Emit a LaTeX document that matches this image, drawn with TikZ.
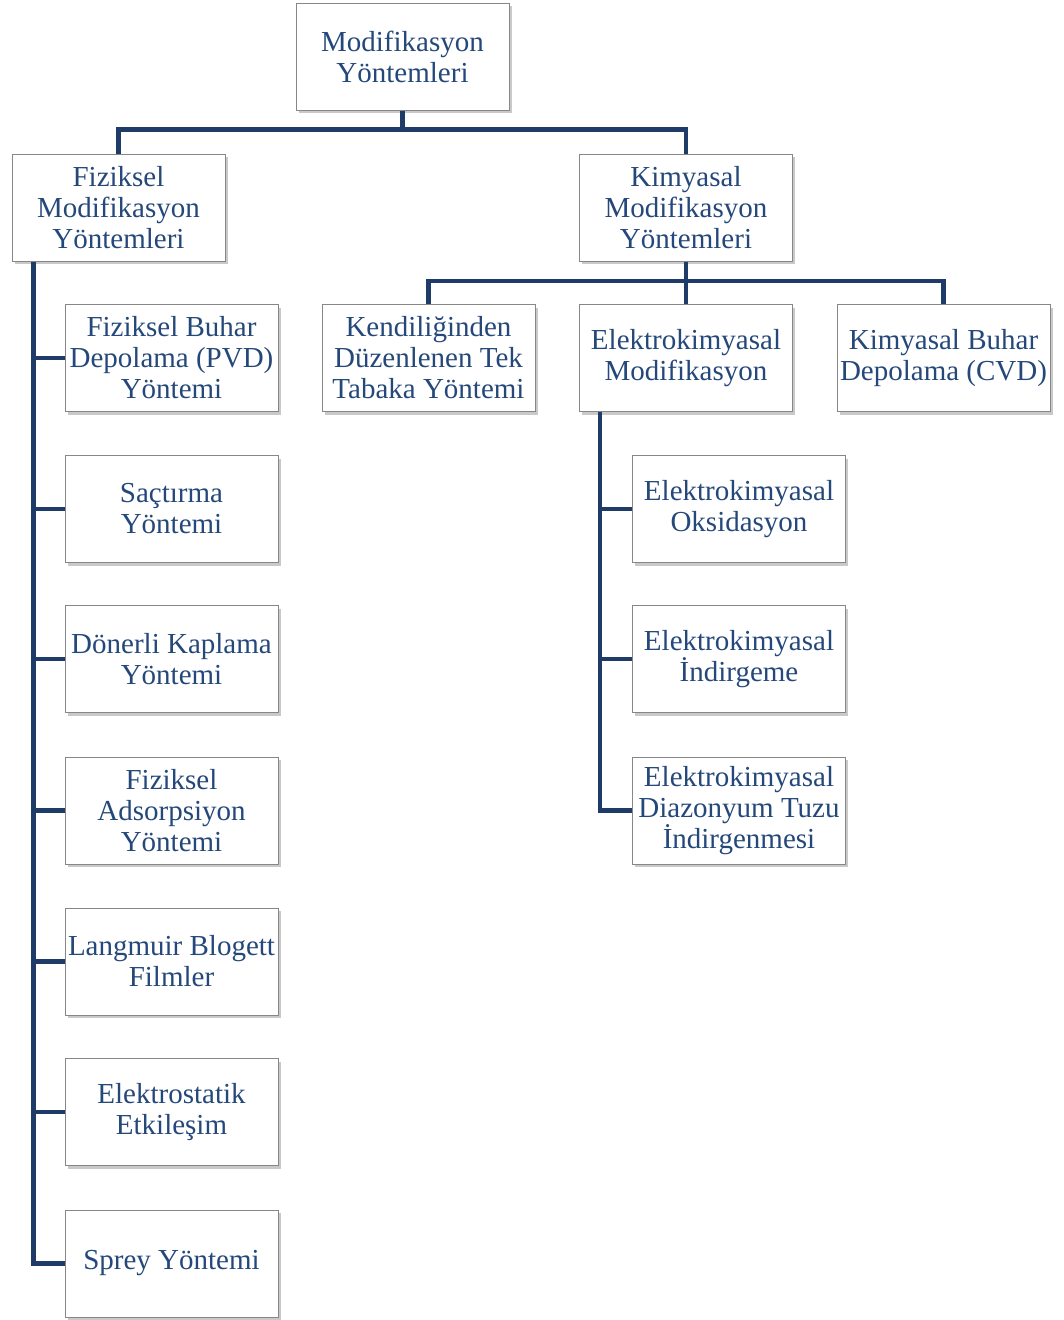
\documentclass[tikz,border=0pt]{standalone}
\usepackage{fontspec}
\setmainfont{Liberation Serif}
\usetikzlibrary{shadows,calc}
\definecolor{txtblue}{RGB}{37,72,122}
\definecolor{lineblue}{RGB}{31,60,105}
\definecolor{boxgray}{RGB}{135,135,135}
\begin{document}
\begin{tikzpicture}[x=1pt,y=1pt,
  box/.style={draw=boxgray,line width=1pt,fill=white,minimum width=213pt,minimum height=107pt,
    inner sep=0pt,align=center,text=txtblue,font=\fontsize{29}{31}\selectfont,
    drop shadow={shadow xshift=2.5pt,shadow yshift=-3pt,opacity=0.3,fill=black!70}},
  conn/.style={draw=lineblue,line width=4.2pt}]
\useasboundingbox (0,0) rectangle (1063,-1320);
\node[box] (root) at (402.5,-56.5) {Modifikasyon\\Yöntemleri};
\node[box] (fiz) at (118.5,-207.5) {Fiziksel\\Modifikasyon\\Yöntemleri};
\node[box] (kim) at (686,-207.5) {Kimyasal\\Modifikasyon\\Yöntemleri};
\node[box] (f1) at (171.5,-358) {Fiziksel Buhar\\Depolama (PVD)\\Yöntemi};
\node[box] (f2) at (171.5,-509) {Saçtırma\\Yöntemi};
\node[box] (f3) at (171.5,-659) {Dönerli Kaplama\\Yöntemi};
\node[box] (f4) at (171.5,-810.5) {Fiziksel\\Adsorpsiyon\\Yöntemi};
\node[box] (f5) at (171.5,-961.5) {Langmuir Blogett\\Filmler};
\node[box] (f6) at (171.5,-1112) {Elektrostatik\\Etkileşim};
\node[box] (f7) at (171.5,-1263.5) {Sprey Yöntemi};
\node[box] (k1) at (428.5,-358) {Kendiliğinden\\Düzenlenen Tek\\Tabaka Yöntemi};
\node[box] (k2) at (686,-358) {Elektrokimyasal\\Modifikasyon};
\node[box] (k3) at (943.5,-358) {Kimyasal Buhar\\Depolama (CVD)};
\node[box] (e1) at (739,-509) {Elektrokimyasal\\Oksidasyon};
\node[box] (e2) at (739,-659) {Elektrokimyasal\\İndirgeme};
\node[box] (e3) at (739,-810.5) {Elektrokimyasal\\Diazonyum Tuzu\\İndirgenmesi};
% connectors
\draw[conn] (root.south) -- ++(0,-20);
\draw[conn] (fiz.north) -- ++(0,24) -| (kim.north);
\draw[conn] (kim.south) -- ++(0,-21);
\draw[conn] (k1.north) -- ++(0,23) -| (k3.north);
\draw[conn] (k2.north) -- ++(0,23);
\coordinate (fs) at ([xshift=22pt]fiz.south west);
\draw[conn] (fs) |- (f7.west);
\foreach \n in {f1,f2,f3,f4,f5,f6} {\draw[conn] (\n.west) -- (\n.west -| fs);}
\coordinate (es) at ([xshift=21pt]k2.south west);
\draw[conn] (es) |- (e3.west);
\foreach \n in {e1,e2} {\draw[conn] (\n.west) -- (\n.west -| es);}
\end{tikzpicture}
\end{document}
